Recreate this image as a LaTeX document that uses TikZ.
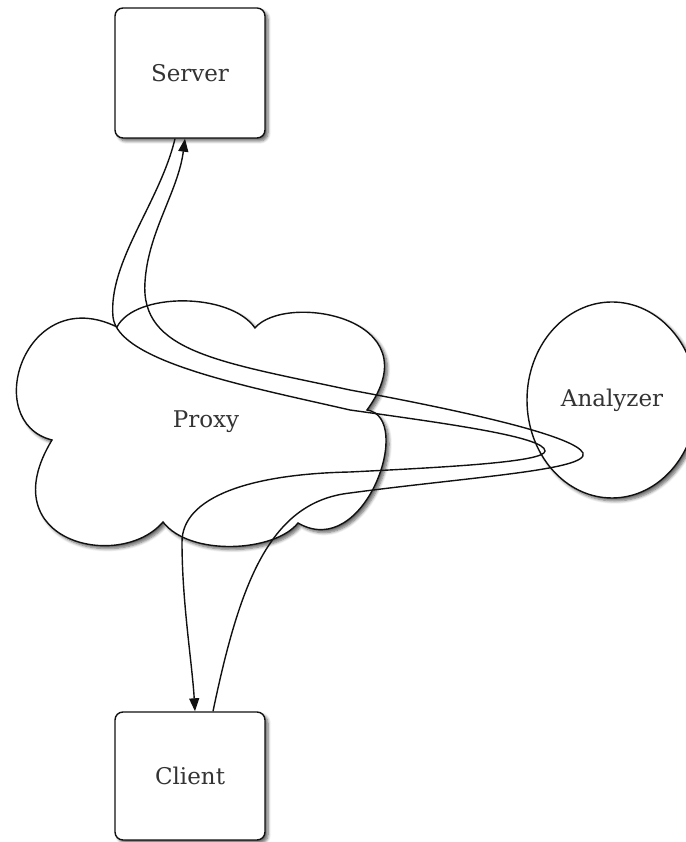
\documentclass[tikz,border=0pt]{standalone}
\usepackage{fontspec}
\setmainfont{DejaVu Serif}
\usepackage{tikz}
\usetikzlibrary{arrows.meta,shapes.geometric,shadows.blur}
\definecolor{Ink}{HTML}{111111}
\definecolor{Label}{HTML}{333333}
\tikzset{
  softshadow/.style={blur shadow={shadow xshift=3pt,shadow yshift=-3pt,shadow blur steps=6,shadow blur radius=3pt,shadow opacity=60}},
  hostbox/.style={draw=Ink,line width=1.4pt,rounded corners=8pt,fill=white,minimum width=150pt,minimum height=130pt,text=Label,softshadow},
  analyzerbox/.style={ellipse,draw=Ink,line width=1.4pt,fill=white,minimum width=170pt,minimum height=196pt,inner sep=0pt,text=Label,softshadow},
  cloudline/.style={draw=Ink,line width=1.4pt,fill=white,softshadow},
  flowline/.style={draw=Ink,line width=1.4pt},
  flowarrow/.style={flowline,-{Triangle[length=13pt,width=10pt]}}
}

\begin{document}
\begin{tikzpicture}[x=1pt,y=1pt,font=\fontsize{23}{27}\selectfont]
  \useasboundingbox (0,0) rectangle (685,842);
  % proxy cloud
  \path[cloudline] (117,515) .. controls (135,550) and (230,550) .. (255,514)
    .. controls (285,550) and (435,525) .. (367,432)
    .. controls (415,425) and (365,280) .. (298,319)
    .. controls (275,290) and (190,285) .. (163,320)
    .. controls (120,270) and (-10,300) .. (52,402)
    .. controls (-20,420) and (25,560) .. (117,515) -- cycle;
  \node[text=Label] (proxy) at (206,420) {Proxy};
  \node[hostbox] (server) at (190,769) {Server};
  \node[hostbox,minimum height=128pt] (client) at (190,66) {Client};
  \node[analyzerbox] (analyzer) at (612,442) {Analyzer};
  % client -> proxy -> analyzer -> server
  \draw[flowarrow] ([xshift=23pt]client.north) .. controls (240,260) and (270,340) .. (350,349)
    .. controls (470,365) and (590,372) .. (583,389)
    .. controls (575,405) and (480,428) .. (350,452)
    .. controls (220,480) and (140,490) .. (145,560)
    .. controls (148,610) and (178,650) .. ([xshift=-5pt]server.south);
  % server -> proxy -> analyzer -> client
  \draw[flowarrow] ([xshift=-15pt]server.south) .. controls (160,640) and (108,580) .. (113,525)
    .. controls (118,480) and (250,455) .. (350,432)
    .. controls (450,418) and (545,405) .. (545,391)
    .. controls (545,380) and (450,375) .. (350,370)
    .. controls (250,368) and (182,345) .. (182,300)
    .. controls (182,240) and (192,180) .. ([xshift=5pt]client.north);
\end{tikzpicture}
\end{document}
